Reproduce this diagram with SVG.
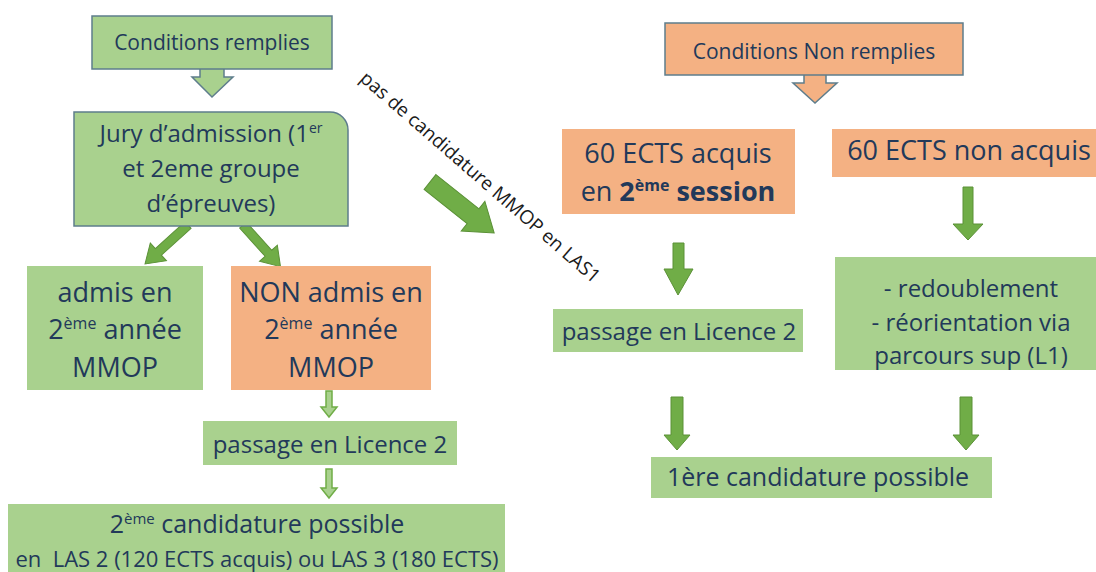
<svg xmlns="http://www.w3.org/2000/svg" width="1096" height="572" viewBox="0 0 1096 572">
<style>
.g{fill:#a9d18e}
.o{fill:#f4b183}
.bd{stroke:#5e7d8c;stroke-width:1.5}
.t{font-family:'Open Sans','Noto Sans','DejaVu Sans',sans-serif;fill:#22395a;text-anchor:middle}
.ar{fill:#70ad47;stroke:#5b9137;stroke-width:1}
.sar{fill:#a9d18e;stroke:#70ad47;stroke-width:1.5}
.lbl{font-family:'Open Sans','Noto Sans',sans-serif;fill:#1a1a1a;text-anchor:middle;font-size:19px}
</style>
<rect width="1096" height="572" fill="#ffffff"/>

<g id="connectors">
  <!-- block arrows under condition boxes -->
  <path d="M200,69 V77 H192 L212,97 L233,77 H224 V69" class="g bd"/>
  <path d="M804,75 V83 H793 L815,103 L837,83 H826 V75" class="o bd"/>
  <!-- Jury to admis / NON admis -->
  <polygon class="ar" points="0,-4.5 40,-4.5 40,-12 58,0 40,12 40,4.5 0,4.5" transform="translate(188,225) rotate(137.8)"/>
  <polygon class="ar" points="0,-4.5 38,-4.5 38,-12 56,0 38,12 38,4.5 0,4.5" transform="translate(243,225) rotate(48)"/>
  <!-- big diagonal arrow -->
  <polygon class="ar" points="0,-9.5 55,-9.5 55,-19 82,0 55,19 55,9.5 0,9.5" transform="translate(430,182) rotate(38.5)"/>
  <text class="lbl" transform="translate(476,182) rotate(41)">pas de candidature MMOP en LAS1</text>
  <!-- small arrows left -->
  <polygon class="sar" points="326,391 332,391 332,407 337,407 329,417 321,407 326,407"/>
  <polygon class="sar" points="326,469 332,469 332,488 337,488 329,498 321,488 326,488"/>
  <!-- right side arrows -->
  <polygon class="ar" points="673,243 684,243 684,269 693,269 678,295 664,269 673,269"/>
  <polygon class="ar" points="963,187 973,187 973,224 983,224 968,240 953,224 963,224"/>
  <polygon class="ar" points="671,397 683,397 683,435 690,435 677,450 664,435 671,435"/>
  <polygon class="ar" points="960,397 972,397 972,435 979,435 966,450 953,435 960,435"/>
</g>

<g id="cond-remplies">
  <rect x="92" y="16" width="240" height="53" class="g bd"/>
  <text class="t" x="212" y="50" font-size="21">Conditions remplies</text>
</g>

<g id="jury">
  <path d="M74,112 H330 A18,18 0 0 1 348,130 V226 H74 Z" class="g bd"/>
  <text class="t" font-size="24"><tspan x="211" y="142">Jury d’admission (1<tspan dy="-9" font-size="14">er</tspan></tspan></text>
  <text class="t" x="211" y="177" font-size="24">et 2eme groupe</text>
  <text class="t" x="211" y="212" font-size="24">d’épreuves)</text>
</g>

<g id="admis">
  <rect x="27" y="266" width="176" height="124" class="g"/>
  <text class="t" x="115" y="302" font-size="27">admis en</text>
  <text class="t" x="115" y="339" font-size="27">2<tspan dy="-10" font-size="16">ème</tspan><tspan dy="10"> année</tspan></text>
  <text class="t" x="115" y="377" font-size="27">MMOP</text>
</g>

<g id="non-admis">
  <rect x="231" y="266" width="200" height="124" class="o"/>
  <text class="t" x="331" y="302" font-size="27">NON admis en</text>
  <text class="t" x="331" y="339" font-size="27">2<tspan dy="-10" font-size="16">ème</tspan><tspan dy="10"> année</tspan></text>
  <text class="t" x="331" y="377" font-size="27">MMOP</text>
</g>

<g id="passage-left">
  <rect x="203" y="421" width="254" height="44" class="g"/>
  <text class="t" x="330" y="453" font-size="24">passage en Licence 2</text>
</g>

<g id="candidature-2">
  <rect x="8" y="504" width="497" height="70" class="g"/>
  <text class="t" x="257" y="533" font-size="25">2<tspan dy="-9" font-size="15">ème</tspan><tspan dy="9"> candidature possible</tspan></text>
  <text class="t" x="257" y="567" font-size="22" xml:space="preserve">en  LAS 2 (120 ECTS acquis) ou LAS 3 (180 ECTS)</text>
</g>

<g id="cond-non-remplies">
  <rect x="665" y="23" width="298" height="52" class="o bd"/>
  <text class="t" x="814" y="59" font-size="21">Conditions Non remplies</text>
</g>

<g id="ects-acquis">
  <rect x="562" y="129" width="233" height="85" class="o"/>
  <text class="t" x="678" y="163" font-size="27">60 ECTS acquis</text>
  <text class="t" x="678" y="201" font-size="27">en <tspan font-weight="700">2</tspan><tspan dy="-10" font-size="16" font-weight="700">ème</tspan><tspan dy="10" font-weight="700"> session</tspan></text>
</g>

<g id="ects-non-acquis">
  <rect x="832" y="129" width="264" height="48" class="o"/>
  <text class="t" x="969" y="160" font-size="27">60 ECTS non acquis</text>
</g>

<g id="redoublement">
  <rect x="835" y="257" width="261" height="113" class="g"/>
  <text class="t" x="971" y="297" font-size="24">- redoublement</text>
  <text class="t" x="971" y="331" font-size="24">- réorientation via</text>
  <text class="t" x="971" y="364" font-size="24">parcours sup (L1)</text>
</g>

<g id="passage-right">
  <rect x="553" y="309" width="250" height="43" class="g"/>
  <text class="t" x="679" y="340" font-size="24">passage en Licence 2</text>
</g>

<g id="candidature-1">
  <rect x="651" y="457" width="341" height="41" class="g"/>
  <text class="t" x="818" y="486" font-size="25">1ère candidature possible</text>
</g>
</svg>
